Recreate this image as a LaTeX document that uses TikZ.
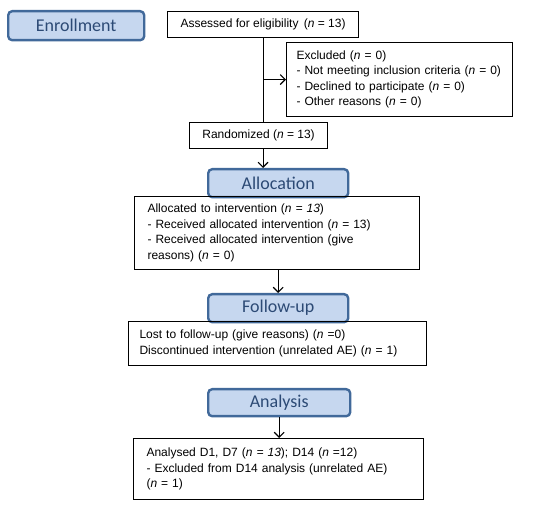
\documentclass[tikz,border=0pt]{standalone}
\usepackage{fontspec}
\setmainfont{Liberation Sans}
\newfontfamily\phasefont{Carlito}
\usetikzlibrary{arrows.meta,calc}
\definecolor{phfill}{HTML}{C6D7EF}
\definecolor{phdraw}{HTML}{41699A}
\definecolor{phtext}{HTML}{2C4A75}
\tikzset{
  phase/.style={draw=phdraw, fill=phfill, line width=2.4pt, rounded corners=4pt,
    text=phtext, font={\phasefont\fontsize{18}{20}\selectfont},
    minimum height=28pt, inner sep=0pt, anchor=north west},
  tbox/.style={draw=black, line width=1.1pt, align=left, anchor=north west,
    font={\fontsize{12}{15.5}\selectfont}, inner ysep=0pt},
  arr/.style={line width=1.1pt, -{Straight Barb[length=5pt,width=10pt,line width=1.1pt]}},
  ln/.style={line width=1.1pt}
}
\begin{document}
\begin{tikzpicture}[x=1pt,y=-1pt]
\useasboundingbox (0,0) rectangle (550,508);
% phase labels
\node[phase, minimum width=136pt, minimum height=29pt] (enr) at (7,10) {Enrollment};
\node[phase, minimum width=140pt] (alloc) at (207,168) {Allocation};
\node[phase, minimum width=140pt] (foll) at (207,293) {Follow-up};
\node[phase, minimum width=142pt, minimum height=27pt] (anal) at (207,388) {Analysis};
% boxes
\node[tbox, align=center, minimum width=191pt, minimum height=26pt, inner xsep=2pt] (assess) at (167,11)
  {Assessed for eligibility\, (\textit{n} = 13)};
\node[tbox, text width=206pt, inner xsep=10pt, minimum height=74pt] (excl) at (286,42)
  {\mbox{Excluded (\textit{n} = 0)}\\
   \mbox{- Not meeting inclusion criteria (\textit{n} = 0)}\\
   \mbox{- Declined to participate (\textit{n} = 0)}\\
   \mbox{- Other reasons (\textit{n} = 0)}};
\node[tbox, align=center, minimum width=138pt, minimum height=26pt, inner xsep=2pt] (rand) at (189,122)
  {Randomized (\textit{n} = 13)};
\node[tbox, text width=259pt, inner xsep=13pt, minimum height=73pt] (allocd) at (134,196)
  {\mbox{Allocated to intervention (\textit{n = 13})}\\
   \mbox{- Received allocated intervention (\textit{n} = 13)}\\
   \mbox{- Received allocated intervention (give}\\
   \mbox{reasons) (\textit{n} = 0)}};
\node[tbox, text width=276pt, inner xsep=11pt, minimum height=44pt] (lost) at (128,321)
  {\mbox{Lost to follow-up (give reasons) (\textit{n} =0)}\\
   \mbox{Discontinued intervention (unrelated AE) (\textit{n} = 1)}};
\node[tbox, text width=264pt, inner xsep=13pt, minimum height=61pt] (analysed) at (133,438)
  {\mbox{Analysed D1, D7 (\textit{n = 13}); D14 (\textit{n} =12)}\\
   \mbox{- Excluded from D14 analysis (unrelated AE)}\\
   \mbox{(\textit{n} = 1)}};
% connectors
\draw[ln] (assess.south) -- (assess.south |- rand.north);
\draw[arr] (assess.south |- excl.west) -- (excl.west);
\draw[arr] (assess.south |- rand.south) -- (assess.south |- alloc.north);
\draw[arr] (foll.north |- allocd.south) -- (foll.north);
\draw[arr] (anal.south) -- (anal.south |- analysed.north);
\end{tikzpicture}
\end{document}
